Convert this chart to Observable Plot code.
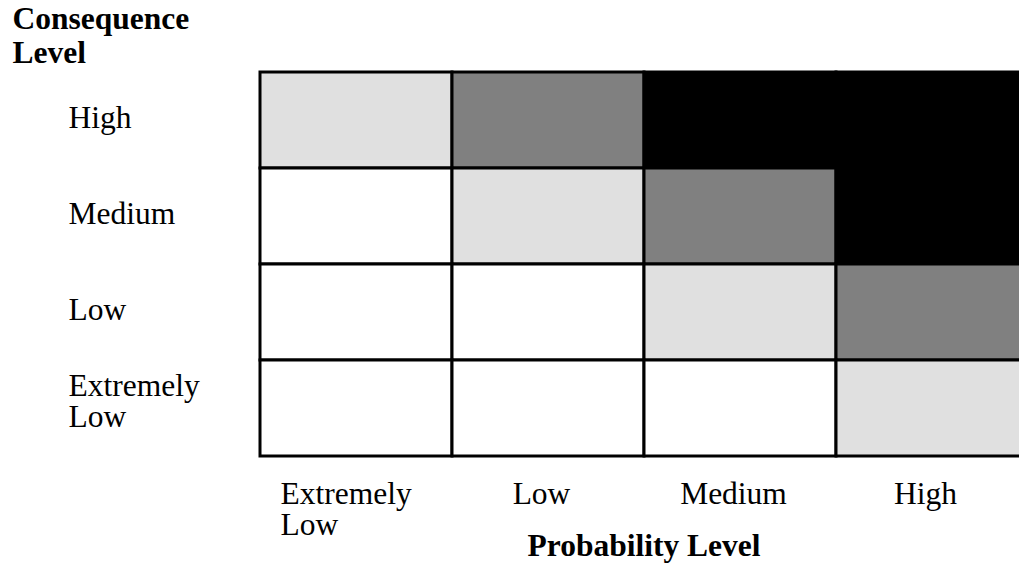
<!DOCTYPE html>
<html>
<head>
<meta charset="utf-8">
<script src="https://cdn.jsdelivr.net/npm/d3@7"></script>
<script src="https://cdn.jsdelivr.net/npm/@observablehq/plot@0.6"></script>
<style>
  html, body { margin: 0; padding: 0; background: #fff; overflow: hidden; }
</style>
</head>
<body>
<div id="chart"></div>
<script>
// Categories
const probabilityLevels = ["Extremely Low", "Low", "Medium", "High"];
const consequenceLevels = ["High", "Medium", "Low", "Extremely Low"]; // top to bottom
// Tick labels
const probabilityTickLabels = ["Extremely\nLow", "Low", "Medium", "High"];
const consequenceTickLabels = ["High", "Medium", "Low", "Extremely\nLow"];
// Risk rating per consequence row (0 = none, 1 = low, 2 = medium, 3 = high)
const riskHigh = [1, 2, 3, 3];
const riskMedium = [0, 1, 2, 3];
const riskLow = [0, 0, 1, 2];
const riskExtremelyLow = [0, 0, 0, 1];
const ratingLevels = [0, 1, 2, 3];
const ratingColors = ["#ffffff", "#e0e0e0", "#808080", "#000000"];
// Titles
const xTitle = "Probability Level";
const yTitle = "Consequence\nLevel";

const rows = [riskHigh, riskMedium, riskLow, riskExtremelyLow];
const cells = [];
rows.forEach((r, i) => r.forEach((v, j) => cells.push({
  consequence: consequenceLevels[i], probability: probabilityLevels[j], risk: v
})));

const xTicks = probabilityLevels.map((p, i) => ({p, label: probabilityTickLabels[i], multi: probabilityTickLabels[i].includes("\n")}));
const yTicks = consequenceLevels.map((c, i) => ({c, label: consequenceTickLabels[i], multi: consequenceTickLabels[i].includes("\n")}));

const font = "'Liberation Serif', 'Times New Roman', serif";
const fs = 31.5;

const chart = Plot.plot({
  width: 1019,
  height: 587,
  marginLeft: 259,
  marginRight: -9,
  marginTop: 72,
  marginBottom: 131,
  style: {fontFamily: font, fontSize: fs + "px", background: "#fff", color: "#000"},
  x: {domain: probabilityLevels, padding: 0, axis: null},
  y: {domain: consequenceLevels, padding: 0, axis: null},
  color: {type: "ordinal", domain: ratingLevels, range: ratingColors},
  marks: [
    Plot.cell(cells, {x: "probability", y: "consequence", fill: "risk", stroke: "#000", strokeWidth: 3}),
    // y tick labels
    Plot.text(yTicks.filter(d => !d.multi), {y: "c", text: "label", frameAnchor: "left", textAnchor: "start", dx: -191, dy: -3, fontSize: fs, lineHeight: 1.0, fill: "#000"}),
    Plot.text(yTicks.filter(d => d.multi), {y: "c", text: "label", frameAnchor: "left", textAnchor: "start", dx: -191, dy: -7, fontSize: fs, lineHeight: 1.0, fill: "#000"}),
    // x tick labels
    Plot.text(xTicks.filter(d => d.multi), {x: "p", text: "label", frameAnchor: "bottom", textAnchor: "start", lineAnchor: "top", dx: -76, dy: 25, fontSize: fs, lineHeight: 1.0, fill: "#000"}),
    Plot.text(xTicks.filter(d => !d.multi), {x: "p", text: "label", frameAnchor: "bottom", textAnchor: "middle", lineAnchor: "top", dx: -7, dy: 25, fontSize: fs, lineHeight: 1.0, fill: "#000"}),
    // axis titles
    Plot.text([yTitle], {text: d => d, frameAnchor: "top-left", textAnchor: "start", lineAnchor: "bottom", dx: -247, dy: -10, fontSize: 31.5, fontWeight: "bold", lineHeight: 1.05, fill: "#000"}),
    Plot.text([xTitle], {text: d => d, frameAnchor: "bottom", textAnchor: "middle", lineAnchor: "bottom", dy: 99, fontSize: 31.5, fontWeight: "bold", fill: "#000"})
  ]
});
document.getElementById("chart").appendChild(chart);
</script>
</body>
</html>
